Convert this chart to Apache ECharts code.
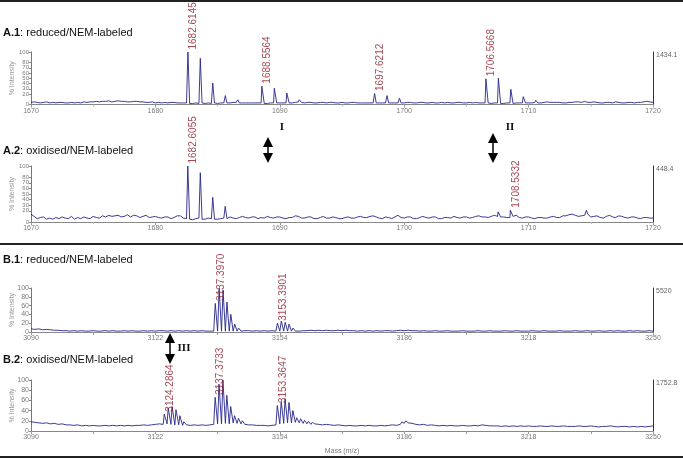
<!DOCTYPE html>
<html><head><meta charset="utf-8">
<script src="https://cdn.jsdelivr.net/npm/echarts@6/dist/echarts.min.js"></script>
<style>html,body{margin:0;padding:0;background:#fff}#c{width:683px;height:459px}</style>
</head><body><div id="c"></div>
<script>
// ---------- DATA ----------
const titles = ['A.1', 'A.2', 'B.1', 'B.2'];
const subtitles = ['reduced/NEM-labeled', 'oxidised/NEM-labeled', 'reduced/NEM-labeled', 'oxidised/NEM-labeled'];
const rightMax = ['1434.1', '448.4', '5520', '1752.8'];
const aTicks = [1670, 1680, 1690, 1700, 1710, 1720];
const bTicks = [3090, 3122, 3154, 3186, 3218, 3250];
const bMinorTicks = [3106, 3138, 3170, 3202, 3234];

// baseline traces (A: from 1670 every 0.25; B: from 3090 every 1)
const a1Base = [4,5,4,3,4,5,3,4,3,4,4,3,3,4,3,4,3,5,4,5,
  5,6,5,6,6,7,5,6,7,6,6,5,5,6,6,5,5,4,4,5,
  3,4,3,4,3,4,4,3,3,3,3,2,2,3,2,3,2,3,2,3,
  2,3,3,3,3,4,4,3,3,3,3,3,3,3,3,2,2,3,3,3,
  3,3,3,3,3,4,5,4,3,4,4,3,3,4,4,3,4,4,3,3,
  4,3,3,4,4,3,3,3,3,3,3,3,3,3,3,3,3,3,3,3,
  3,4,4,3,3,4,4,3,3,4,3,3,4,3,4,3,3,4,4,3,
  3,4,3,4,3,3,3,3,2,3,3,2,2,3,3,2,3,3,3,3,
  3,3,4,3,3,4,5,4,4,4,4,3,3,4,4,5,5,4,6,4,
  4,5,4,3,3,4,4,3,5,4,3,3,4,4,3,4,4,5,6,5,
  4];
const a2Base = [14,10,6,8,9,5,7,5,8,6,9,7,6,10,5,8,6,9,7,6,
  10,8,7,11,9,12,10,11,12,9,10,13,9,12,11,8,10,12,8,9,
  10,8,7,9,9,6,8,11,11,7,6,5,4,6,7,5,5,7,6,5,
  5,6,7,6,9,7,6,8,10,8,7,9,9,6,8,7,10,8,7,9,
  9,7,6,8,8,11,10,7,7,9,9,6,6,8,10,7,7,9,8,6,
  6,8,9,7,7,9,10,8,8,10,11,9,7,6,9,8,6,9,12,8,
  7,9,9,6,6,8,10,8,7,9,9,6,6,8,8,7,10,8,7,9,
  9,7,8,10,11,9,9,8,10,12,10,9,9,8,8,10,12,8,7,9,
  9,7,6,8,8,7,7,9,10,8,8,11,11,13,14,12,10,11,12,14,
  9,10,11,8,7,10,12,9,8,11,10,8,7,9,9,7,6,8,8,7,
  7];
const b1Base = [7,6,7,5,6,5,4,4,3,3, 2,3,2,3,2,2,3,2,2,3, 2,3,2,2,3,2,3,2,2,3, 2,3,2,3,3,2,3,2,3,2, 3,2,3,2,3,2,2,2,2,2,
  2,2,2,2,2,3,3,2,3,2, 3,2,3,2,2,2,2,2,2,2, 3,3,4,3,4,3,4,3,3,4, 3,4,3,3,2,3,2,3,2,3, 2,3,3,2,3,4,3,4,3,3,
  2,3,2,2,3,2,2,3,2,2, 2,3,2,2,2,3,2,2,3,2, 2,2,3,2,2,3,2,2,2,3, 2,2,3,2,2,2,3,2,2,2, 3,2,2,3,2,2,3,2,2,3,
  2,3,2,2,3,2,3,2,2,3, 2];
const b2Base = [18,17,16,15,16,14,15,13,14,12, 12,11,12,10,11,10,11,10,10,11, 10,11,10,11,10,11,10,11,11,12, 11,12,13,14,13,14,13,12,12,11,
  12,11,12,11,12,11,12,13,14,14, 15,14,16,15,14,13,12,12,11,11, 11,10,11,12,14,15,16,16,17,16, 15,14,13,14,13,12,13,12,11,12,
  11,10,11,10,10,11,10,11,10,10, 11,10,11,12,11,13,15,16,15,13, 12,13,11,12,11,10,11,10,11,10, 10,11,10,10,11,10,12,11,10,10,
  10,9,10,9,10,9,10,9,10,9, 9,10,9,9,10,9,9,10,9,9, 9,10,9,9,10,9,8,9,9,10, 9,8,9,9,8,9,8,9,8,9, 10];

// peaks [m/z, % intensity]
const a1Peaks = [[1682.6145,100],[1683.61,88],[1684.61,41],[1685.62,17],[1686.62,9],
  [1688.5564,35],[1689.56,31],[1690.56,22],[1691.56,9],
  [1697.6212,21],[1698.62,17],[1699.62,12],
  [1706.5668,49],[1707.57,50],[1708.57,29],[1709.57,15],[1710.57,8]];
const a2Peaks = [[1682.6055,100],[1683.61,88],[1684.61,44],[1685.61,28],[1707.55,18],[1708.5332,21],[1714.65,21]];
const b1Peaks = [[3137.3970,65],[3138.40,100],[3139.40,95],[3140.40,68],[3141.40,40],[3142.40,18],[3143.40,9],[3144.40,5],
  [3153.3901,20],[3154.39,25],[3155.39,22],[3156.39,18],[3157.39,9],[3158.39,6],[3159.39,5],[3160.39,4]];
const b2Peaks = [[3124.2864,33],[3125.29,45],[3126.29,48],[3127.29,42],[3128.29,30],[3129.29,18],[3130.29,13],
  [3137.3733,66],[3138.37,92],[3139.37,100],[3140.37,70],[3141.37,48],[3142.37,30],[3143.37,25],[3144.37,20],[3145.37,16],[3146.37,14],
  [3153.3647,50],[3154.36,58],[3155.36,63],[3156.36,56],[3157.36,40],[3158.36,26],[3159.36,24],[3160.36,21],[3161.36,19],[3162.36,17],[3163.36,16],[3164.36,15],
  [3185.4,18],[3186.4,20],[3187.4,19],[3188.4,16]];

// labelled peaks
const a1Tags = ['1682.6145', '1688.5564', '1697.6212', '1706.5668'];
const a2Tags = ['1682.6055', '1708.5332'];
const b1Tags = ['3137.3970', '3153.3901'];
const b2Tags = ['3124.2864', '3137.3733', '3153.3647'];

// ---------- BUILD ----------
const panels = [
  {base: a1Base, start: 1670, step: 0.25, peaks: a1Peaks, tags: a1Tags, grid: {left: 31, right: 30, top: 52, height: 52.5}, ticks: aTicks, yInt: 10, titleTop: 27},
  {base: a2Base, start: 1670, step: 0.25, peaks: a2Peaks, tags: a2Tags, grid: {left: 31, right: 30, top: 166, height: 56}, ticks: aTicks, yInt: 10, titleTop: 145},
  {base: b1Base, start: 3090, step: 1, peaks: b1Peaks, tags: b1Tags, grid: {left: 31, right: 30, top: 288, height: 44}, ticks: bTicks, yInt: 20, titleTop: 254},
  {base: b2Base, start: 3090, step: 1, peaks: b2Peaks, tags: b2Tags, grid: {left: 31, right: 30, top: 380, height: 51}, ticks: bTicks, yInt: 20, titleTop: 354}
];

const LINE = '#26268a';
const LABEL = '#8e1c2a';
const GREY = '#7a7a7a';
const FONT = 'Liberation Sans, Arial, sans-serif';

const option = {
  animation: false,
  backgroundColor: '#fff',
  title: [], grid: [], xAxis: [], yAxis: [], series: [],
  graphic: []
};

panels.forEach((p, i) => {
  const pts = p.base.map((v, k) => [p.start + k * p.step, v]).concat(p.peaks.map(q => [q[0], q[1]]));
  pts.sort((u, v) => u[0] - v[0]);
  option.grid.push(Object.assign({containLabel: false, outerBoundsMode: 'none'}, p.grid));
  option.title.push({
    text: '{b|' + titles[i] + '}: ' + subtitles[i],
    left: 3, top: p.titleTop, padding: 0,
    textStyle: {fontFamily: FONT, fontSize: 11, fontWeight: 'normal', color: '#111',
      rich: {b: {fontFamily: FONT, fontSize: 11, fontWeight: 'bold', color: '#111'}}}
  });
  const isB = i >= 2;
  const xa = {
    type: 'value', gridIndex: i, min: p.ticks[0], max: p.ticks[p.ticks.length - 1],
    axisLine: {show: true, onZero: false, lineStyle: {color: '#888', width: 1}},
    axisTick: {show: true, length: 3, lineStyle: {color: '#999'}},
    axisLabel: {fontSize: 7, color: GREY, fontFamily: FONT, margin: 3, showMinLabel: true, showMaxLabel: true,
      formatter: (v) => String(v)},
    splitLine: {show: false}
  };
  if (isB) {
    xa.axisLabel.customValues = p.ticks;
    xa.axisTick.customValues = p.ticks.concat(bMinorTicks);
  } else {
    xa.interval = 10;
    xa.minorTick = {show: true, splitNumber: 2, length: 2, lineStyle: {color: '#bbb'}};
  }
  if (i === 3) {
    xa.name = 'Mass (m/z)';
    xa.nameLocation = 'middle';
    xa.nameGap = 17;
    xa.nameMoveOverlap = false;
    xa.nameTextStyle = {fontSize: 7, color: GREY, fontFamily: FONT};
  }
  option.xAxis.push(xa);
  option.yAxis.push({
    type: 'value', gridIndex: i, min: 0, max: 100, interval: p.yInt,
    name: '% Intensity', nameLocation: 'middle', nameGap: 15, nameRotate: 90, nameMoveOverlap: false,
    nameTextStyle: {fontSize: 7, color: '#999', fontFamily: FONT},
    axisLine: {show: true, lineStyle: {color: '#777'}},
    axisTick: {show: true, length: 2, lineStyle: {color: '#888'}},
    axisLabel: {fontSize: isB ? 7 : 6, color: GREY, fontFamily: FONT, margin: 2, hideOverlap: false,
      showMinLabel: true, showMaxLabel: true, formatter: (v) => String(v)},
    splitLine: {show: false}
  });
  option.yAxis.push({
    type: 'value', gridIndex: i, min: 0, max: 100, interval: p.yInt, position: 'right',
    axisLine: {show: true, lineStyle: {color: '#333'}},
    axisTick: {show: false},
    axisLabel: {fontSize: 7, color: '#666', fontFamily: FONT, margin: 3, verticalAlign: 'top', showMaxLabel: true,
      formatter: (v) => (v === 100 ? rightMax[i] : '')},
    splitLine: {show: false}
  });
  option.series.push({
    type: 'line', xAxisIndex: i, yAxisIndex: 2 * i, data: pts,
    showSymbol: false, symbol: 'none', lineStyle: {color: LINE, width: 0.9}, silent: true, z: 3
  });
  const labelled = p.tags.map(t => {
    const pk = p.peaks.find(q => Math.abs(q[0] - Number(t)) < 1e-6);
    return {name: t, value: [pk[0], pk[1]]};
  });
  option.series.push({
    type: 'scatter', xAxisIndex: i, yAxisIndex: 2 * i, data: labelled,
    symbol: 'rect', symbolSize: 1, itemStyle: {color: 'rgba(0,0,0,0)'}, silent: true, z: 5,
    label: {show: true, formatter: '{b}', position: [6, -2], rotate: 90, align: 'left', verticalAlign: 'middle',
      fontSize: 10, color: LABEL, fontFamily: FONT}
  });
});

// separators, arrows, roman numerals (annotations)
function hline(y) {
  return {type: 'line', shape: {x1: 0, y1: y, x2: 683, y2: y}, style: {stroke: '#222', lineWidth: 2}, silent: true};
}
function dblArrow(x, y1, y2) {
  return [
    {type: 'polygon', shape: {points: [[x, y1], [x - 5, y1 + 10], [x + 5, y1 + 10]]}, style: {fill: '#000'}},
    {type: 'polygon', shape: {points: [[x, y2], [x - 5, y2 - 10], [x + 5, y2 - 10]]}, style: {fill: '#000'}},
    {type: 'line', shape: {x1: x, y1: y1 + 9, x2: x, y2: y2 - 9}, style: {stroke: '#000', lineWidth: 1.5}}
  ];
}
function roman(t, x, y) {
  return {type: 'text', x: x, y: y, style: {text: t, fontFamily: 'Liberation Serif, Times New Roman, serif', fontWeight: 'bold', fontSize: 11, fill: '#111', align: 'center', verticalAlign: 'middle'}};
}
option.graphic = [hline(1), hline(244), hline(457)]
  .concat(dblArrow(268, 137, 163), dblArrow(493, 133, 163), dblArrow(170, 333, 364))
  .concat([roman('I', 282, 127), roman('II', 510, 127), roman('III', 184, 348)]);

const chart = echarts.init(document.getElementById('c'), null, {renderer: 'canvas'});
chart.setOption(option);
</script>
</body></html>
